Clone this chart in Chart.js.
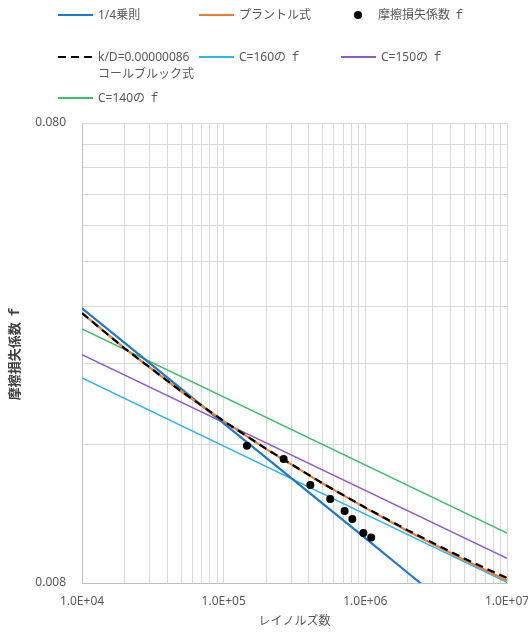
<!DOCTYPE html>
<html>
<head>
<meta charset="utf-8">
<script src="https://cdn.jsdelivr.net/npm/chart.js@4.4.0/dist/chart.umd.min.js"></script>
<style>
    html, body { margin: 0; padding: 0; background: #fff; }
    #wrap { position: relative; width: 528px; height: 635px; }
    #chart { position: absolute; left: 0; top: 0; }
    .leg-text {
        position: absolute;
        font-family: 'Noto Sans', 'Noto Sans CJK JP', sans-serif;
        font-size: 12px;
        line-height: 17px;
        color: #595959;
        white-space: pre;
    }
    .leg-sw { position: absolute; }
</style>
</head>
<body>
<div id="wrap">
    <canvas id="chart" width="528" height="635"></canvas>
    <div id="legend"></div>
</div>
<script>
// Reynolds numbers used for the curve series
const reLine = [1e4, 2e4, 5e4, 1e5, 2e5, 5e5, 1e6, 2e6, 5e6, 1e7];

// 1/4乗則, プラントル式, コールブルック式
const blasiusF   = [0.03164, 0.02661, 0.02116, 0.01779, 0.01496, 0.01190, 0.01001, 0.00841, 0.00669, 0.00563];
const prandtlF   = [0.03089, 0.02589, 0.02089, 0.01799, 0.01564, 0.01316, 0.01165, 0.01037, 0.00898, 0.00810];
const colebrookF = [0.03088, 0.02589, 0.02090, 0.01800, 0.01565, 0.01317, 0.01167, 0.01041, 0.00904, 0.00820];

// Hazen-Williams lines (straight in log-log)
const reHW  = [1e4, 1e7];
const c160F = [0.02233, 0.00803];
const c150F = [0.02508, 0.00905];
const c140F = [0.02853, 0.01027];

// measured points
const measuredRe = [1.46e5, 2.65e5, 4.09e5, 5.65e5, 7.14e5, 8.09e5, 9.69e5, 1.10e6];
const measuredF  = [0.01590, 0.01488, 0.01306, 0.01218, 0.01147, 0.01102, 0.01027, 0.01004];

const seriesNames = [
    '1/4乗則',
    'プラントル式',
    '摩擦損失係数 ｆ',
    'k/D=0.00000086\nコールブルック式',
    'C=160の ｆ',
    'C=150の ｆ',
    'C=140の ｆ'
];

// axis ticks
const xDecades = [1e4, 1e5, 1e6, 1e7];
const xTickLabels = ['1.0E+04', '1.0E+05', '1.0E+06', '1.0E+07'];
const yGridValues = [0.008, 0.016, 0.024, 0.032, 0.040, 0.048, 0.056, 0.064, 0.072, 0.080];
const yTickLabels = {0.008: '0.008', 0.08: '0.080'};

const FONT = "'Noto Sans', 'Noto Sans CJK JP', sans-serif";

function pts(xs, ys) {
    return xs.map((x, i) => ({ x: x, y: ys[i] }));
}

// x gridlines: 1..9 x each decade
let xGridValues = [];
xDecades.slice(0, 3).forEach(d => {
    for (let m = 1; m <= 9; m++) xGridValues.push(d * m);
});
xGridValues.push(1e7);

function lineSet(label, data, color, width, order, dash) {
    return {
        label: label,
        data: data,
        showLine: true,
        borderColor: color,
        backgroundColor: color,
        borderWidth: width,
        borderDash: dash || [],
        pointRadius: 0,
        fill: false,
        tension: 0,
        order: order
    };
}

const datasets = [
    lineSet(seriesNames[0], pts(reLine, blasiusF), '#1f78c8', 2.2, 3),
    lineSet(seriesNames[1], pts(reLine, prandtlF), '#ED7D31', 2.2, 2),
    {
        label: seriesNames[2],
        data: pts(measuredRe, measuredF),
        showLine: false,
        pointRadius: 4,
        pointBorderWidth: 0,
        backgroundColor: '#000',
        borderColor: '#000',
        order: 0
    },
    lineSet(seriesNames[3], pts(reLine, colebrookF), '#000', 2.2, 1, [8, 5]),
    lineSet(seriesNames[4], pts(reHW, c160F), '#2cb5ee', 1.5, 6),
    lineSet(seriesNames[5], pts(reHW, c150F), '#8f5bc9', 1.5, 5),
    lineSet(seriesNames[6], pts(reHW, c140F), '#3dbe6a', 1.5, 4)
];

new Chart(document.getElementById('chart'), {
    type: 'scatter',
    data: { datasets: datasets },
    options: {
        responsive: false,
        animation: false,
        layout: { padding: { top: 123, right: 21, left: 0, bottom: 0 } },
        plugins: {
            legend: { display: false },
            tooltip: { enabled: false }
        },
        scales: {
            x: {
                type: 'logarithmic',
                min: 1e4,
                max: 1e7,
                afterBuildTicks: s => { s.ticks = xGridValues.map(v => ({ value: v })); },
                afterFit: s => { s.height = 52; s.paddingLeft = 0; s.paddingRight = 0; },
                grid: { color: '#d9d9d9', drawTicks: false },
                border: { color: '#bfbfbf' },
                ticks: {
                    autoSkip: false,
                    maxRotation: 0,
                    padding: 11,
                    color: '#595959',
                    font: { family: FONT, size: 12 },
                    callback: v => {
                        const k = xDecades.indexOf(v);
                        return k >= 0 ? xTickLabels[k] : '';
                    }
                },
                title: {
                    display: true,
                    text: 'レイノルズ数',
                    color: '#595959',
                    font: { family: FONT, size: 12 },
                    padding: { top: 0, bottom: 6 }
                }
            },
            y: {
                type: 'logarithmic',
                min: 0.008,
                max: 0.08,
                afterBuildTicks: s => { s.ticks = yGridValues.map(v => ({ value: v })); },
                afterFit: s => { s.width = 82; s.paddingTop = 0; s.paddingBottom = 0; },
                grid: { color: '#d9d9d9', drawTicks: false },
                border: { color: '#bfbfbf' },
                ticks: {
                    autoSkip: false,
                    padding: 16,
                    color: '#595959',
                    font: { family: FONT, size: 12 },
                    callback: v => yTickLabels[v] || ''
                },
                title: {
                    display: true,
                    text: '摩擦損失係数 ｆ',
                    color: '#404040',
                    font: { family: FONT, size: 13, weight: 'bold' },
                    padding: { top: 7, bottom: 0 }
                }
            }
        }
    }
});

// HTML legend laid out like the original (3 rows)
const legendSlots = [
    { x: 58, y: 15 }, { x: 199, y: 15 }, { x: 341, y: 15 },
    { x: 58, y: 57 }, { x: 199, y: 57 }, { x: 341, y: 57 },
    { x: 58, y: 98 }
];

const legend = document.getElementById('legend');
datasets.forEach((ds, i) => {
    const slot = legendSlots[i];
    const sw = document.createElement('div');
    sw.className = 'leg-sw';
    if (ds.showLine === false) {
        sw.style.left = (slot.x + 13) + 'px';
        sw.style.top = (slot.y - 4) + 'px';
        sw.style.width = '8px';
        sw.style.height = '8px';
        sw.style.borderRadius = '50%';
        sw.style.background = ds.backgroundColor;
    } else {
        sw.style.left = slot.x + 'px';
        sw.style.top = (slot.y - 1) + 'px';
        sw.style.width = '35px';
        sw.style.height = Math.round(ds.borderWidth) + 'px';
        if (ds.borderDash.length) {
            sw.style.background = `repeating-linear-gradient(to right, ${ds.borderColor} 0 8px, transparent 8px 13px)`;
        } else {
            sw.style.background = ds.borderColor;
        }
    }
    legend.appendChild(sw);

    const tx = document.createElement('div');
    tx.className = 'leg-text';
    tx.style.left = (slot.x + (ds.showLine === false ? 37 : 40)) + 'px';
    tx.style.top = (slot.y - 9) + 'px';
    tx.textContent = ds.label;
    legend.appendChild(tx);
});
</script>
</body>
</html>
